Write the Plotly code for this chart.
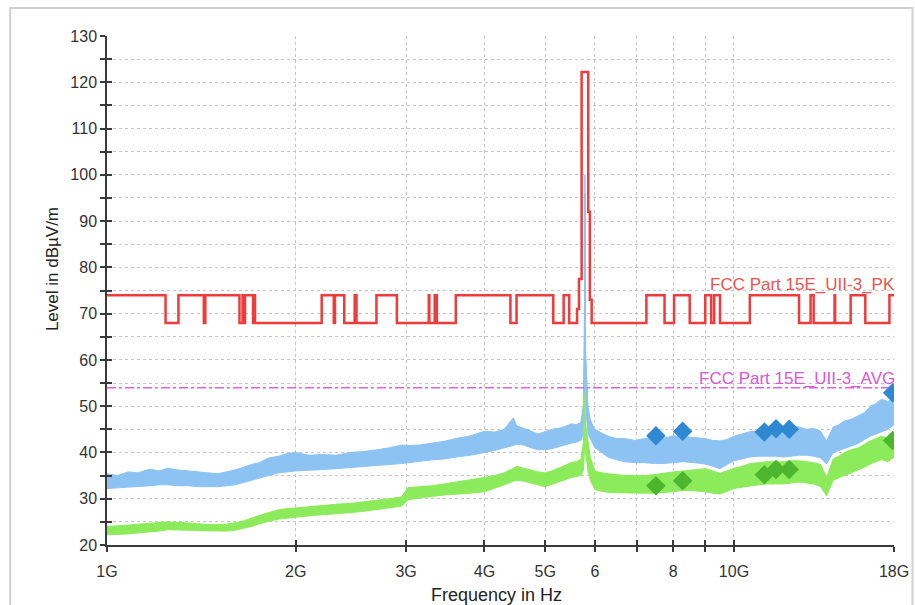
import math
import plotly.graph_objects as go

GHZ = 1e9

# FCC Part 15E UII-3 peak limit (stepped), frequency in GHz, level in dBuV/m
lim_pk_f = [1.0, 1.24, 1.30, 1.427, 1.435, 1.6265, 1.6455, 1.6465, 1.66, 1.71,
            1.7188, 1.7222, 2.2, 2.3, 2.31, 2.39, 2.4835, 2.5, 2.69, 2.9,
            3.26, 3.267, 3.332, 3.339, 3.3458, 3.358, 3.6, 4.4, 4.5, 5.15,
            5.35, 5.46, 5.62, 5.66, 5.715, 5.855, 5.89, 5.93, 7.25, 7.75,
            8.025, 8.5, 9.0, 9.2, 9.3, 9.5, 10.6, 12.7, 13.25, 13.4,
            14.47, 14.5, 15.35, 16.2, 17.7, 18.0]
lim_pk_db = [74, 68, 74, 68, 74, 68, 74, 68, 74, 68,
             74, 68, 74, 68, 74, 68, 74, 68, 74, 68,
             74, 68, 74, 68, 74, 68, 74, 68, 74, 68,
             74, 68, 71, 77.5, 122.2, 92, 73, 68, 74, 68,
             74, 68, 74, 68, 74, 68, 74, 68, 74, 68,
             74, 68, 74, 68, 74, 74]

# FCC Part 15E UII-3 average limit
lim_av_f = [1.0, 18.0]
lim_av_db = [54, 54]

# Measured sweep envelopes (GHz, dBuV/m): peak detector and average detector
scan_f = [1.00, 1.04, 1.08, 1.12, 1.17, 1.21, 1.25, 1.30, 1.35, 1.40,
          1.45, 1.50, 1.55, 1.60, 1.65, 1.70, 1.75, 1.81, 1.88, 1.94,
          2.00, 2.10, 2.20, 2.32, 2.45, 2.57, 2.70, 2.82, 2.95, 3.02,
          3.15, 3.30, 3.45, 3.60, 3.80, 4.00, 4.15, 4.30, 4.45, 4.50,
          4.62, 4.75, 4.87, 5.00, 5.12, 5.25, 5.38, 5.50, 5.60, 5.70,
          5.75, 5.775, 5.785, 5.80, 5.85, 5.90, 6.00, 6.15, 6.30, 6.50,
          6.70, 6.95, 7.20, 7.45, 7.70, 8.00, 8.30, 8.65, 9.00, 9.25,
          9.50, 9.75, 10.0, 10.3, 10.6, 10.95, 11.3, 11.65, 12.0, 12.35,
          12.7, 13.05, 13.4, 13.75, 14.05, 14.4, 14.7, 15.0, 15.4, 15.8,
          16.15, 16.5, 16.85, 17.2, 17.6, 18.0]
pk_hi = [35.4, 35.0, 35.8, 35.6, 36.4, 36.0, 36.6, 36.2, 36.0, 35.8,
         35.6, 35.4, 35.8, 36.2, 36.8, 37.4, 37.8, 38.8, 39.2, 39.8,
         40.0, 39.4, 39.6, 39.4, 40.0, 40.2, 40.6, 41.0, 41.6, 41.5,
         41.6, 42.0, 42.4, 43.0, 43.6, 44.6, 44.4, 45.0, 47.5, 45.8,
         45.2, 44.5, 44.0, 44.5, 45.0, 45.2, 45.6, 46.2, 46.0, 46.5,
         50.0, 70.0, 100.0, 62.0, 50.0, 47.0, 45.0, 44.2, 43.5, 43.0,
         43.0, 42.6, 43.0, 43.2, 43.0, 43.6, 43.5, 43.2, 43.0, 42.6,
         42.5, 42.8, 43.5, 44.0, 44.5, 44.6, 45.0, 45.4, 45.0, 45.6,
         45.5, 45.0, 45.2, 44.6, 42.5, 45.5, 46.0, 46.8, 47.2, 48.0,
         48.6, 50.0, 50.6, 51.5, 51.0, 52.0]
pk_lo = [32.2, 32.4, 32.5, 32.6, 32.8, 33.0, 33.0, 32.8, 32.8, 32.6,
         32.6, 32.6, 32.8, 33.0, 33.5, 34.0, 34.5, 35.0, 35.6, 35.8,
         36.0, 36.2, 36.3, 36.5, 36.6, 36.9, 37.2, 37.4, 37.6, 37.8,
         38.0, 38.4, 38.6, 39.0, 39.4, 40.0, 40.4, 41.0, 41.5, 41.8,
         41.6, 41.0, 40.6, 40.6, 40.8, 41.2, 41.6, 42.0, 42.2, 42.6,
         44.0, 52.0, 96.0, 50.0, 44.0, 43.0, 41.0, 40.0, 39.0, 38.4,
         38.0, 37.8, 37.8, 37.6, 37.6, 37.8, 38.0, 37.8, 37.5, 37.0,
         36.5, 37.4, 38.2, 38.6, 39.0, 39.2, 39.2, 39.2, 39.0, 39.2,
         39.4, 39.4, 39.2, 38.8, 37.5, 40.0, 40.4, 40.8, 41.4, 42.0,
         42.8, 43.5, 44.0, 44.5, 45.0, 46.0]
av_hi = [24.0, 24.1, 24.3, 24.5, 24.7, 24.9, 25.0, 24.9, 24.8, 24.6,
         24.4, 24.4, 24.5, 24.8, 25.2, 25.8, 26.4, 27.0, 27.6, 27.9,
         28.0, 28.3, 28.6, 28.8, 29.0, 29.3, 29.6, 30.0, 30.4, 32.4,
         32.6, 32.8, 33.2, 33.6, 34.0, 34.6, 35.0, 35.6, 36.6, 37.0,
         36.6, 36.2, 35.8, 35.6, 36.0, 36.6, 37.2, 37.8, 38.0, 38.5,
         42.0, 48.0, 53.0, 46.0, 42.0, 39.0, 36.0, 35.6, 35.4, 35.2,
         35.0, 35.0, 35.0, 35.2, 35.5, 35.8, 36.0, 36.2, 36.5, 36.0,
         35.5, 36.0, 36.6, 37.0, 37.6, 37.8, 38.0, 38.0, 38.0, 38.2,
         38.2, 38.0, 37.8, 37.4, 34.6, 38.6, 39.2, 40.0, 40.6, 41.0,
         41.8, 42.5, 43.0, 43.5, 43.0, 43.5]
av_lo = [22.2, 22.3, 22.4, 22.6, 22.8, 23.0, 23.3, 23.3, 23.2, 23.1,
         23.0, 23.0, 23.0, 23.2, 23.6, 24.0, 24.6, 25.1, 25.6, 25.8,
         26.0, 26.3, 26.6, 26.8, 27.0, 27.3, 27.6, 28.0, 28.4, 29.8,
         30.2, 30.5, 30.8, 31.0, 31.2, 31.5, 32.2, 33.0, 33.8, 34.0,
         33.8, 33.4, 33.0, 32.6, 33.0, 33.6, 34.1, 34.6, 34.8, 35.0,
         36.0, 40.0, 48.0, 40.0, 36.0, 34.0, 32.0, 31.6, 31.4, 31.3,
         31.3, 31.2, 31.2, 31.2, 31.3, 31.5, 31.8, 31.7, 31.5, 31.2,
         31.0, 31.6, 32.2, 32.5, 32.8, 33.0, 33.2, 33.2, 33.2, 33.4,
         33.6, 33.4, 33.2, 32.6, 30.6, 34.0, 34.5, 35.0, 35.6, 36.2,
         36.8, 37.5, 38.0, 38.5, 38.0, 39.0]

# Final measurement points
final_f = [7.508, 8.283, 11.18, 11.67, 12.25, 17.91]
final_pk = [43.6, 44.6, 44.4, 45.1, 45.0, 52.9]
final_av = [32.8, 33.9, 35.2, 36.3, 36.3, 42.6]

x_ticks = [1, 2, 3, 4, 5, 6, 7, 8, 9, 10, 18]
x_ticktext = ["1G", "2G", "3G", "4G", "5G", "6", "", "8", "", "10G", "18G"]

FONT = "Liberation Sans, Arial, sans-serif"
RED = "#EE3B3B"
MAGENTA = "#DC64DC"
BLUE_TRACE = "#8CC3F2"
GREEN_TRACE = "#8CEB5A"
BLUE_MK = "#2F88D2"
GREEN_MK = "#4DB52E"
GRID = "#C4C4C4"
AXIS = "#3A3A3A"


def hz(values):
    return [v * GHZ for v in values]


def band(freqs, lo, hi):
    xs = hz(freqs) + hz(freqs[::-1])
    ys = list(hi) + list(lo[::-1])
    return xs, ys


fig = go.Figure()

bx, by = band(scan_f, pk_lo, pk_hi)
fig.add_trace(go.Scatter(x=bx, y=by, fill="toself", fillcolor=BLUE_TRACE,
                         line=dict(color=BLUE_TRACE, width=1),
                         mode="lines", hoverinfo="skip", showlegend=False))
gx, gy = band(scan_f, av_lo, av_hi)
fig.add_trace(go.Scatter(x=gx, y=gy, fill="toself", fillcolor=GREEN_TRACE,
                         line=dict(color=GREEN_TRACE, width=1),
                         mode="lines", hoverinfo="skip", showlegend=False))

fig.add_trace(go.Scatter(x=hz(lim_av_f), y=lim_av_db, mode="lines",
                         line=dict(color=MAGENTA, width=1.5, dash="dashdot"),
                         showlegend=False))
fig.add_trace(go.Scatter(x=hz(lim_pk_f), y=lim_pk_db, mode="lines",
                         line=dict(color=RED, width=2.5, shape="hv"),
                         showlegend=False))

fig.add_trace(go.Scatter(x=hz(final_f), y=final_pk, mode="markers",
                         marker=dict(symbol="diamond", size=15, color=BLUE_MK),
                         showlegend=False))
fig.add_trace(go.Scatter(x=hz(final_f), y=final_av, mode="markers",
                         marker=dict(symbol="diamond", size=15, color=GREEN_MK),
                         showlegend=False))

# invisible trace carrying the secondary axes (inner half of the crossing ticks)
fig.add_trace(go.Scatter(x=[1 * GHZ, 18 * GHZ], y=[20, 130], xaxis="x2", yaxis="y2",
                         mode="markers", marker=dict(opacity=0), hoverinfo="skip",
                         showlegend=False))

x_range = [math.log10(1 * GHZ), math.log10(18 * GHZ)]
tickvals = hz(x_ticks)

fig.update_layout(
    width=915, height=605,
    margin=dict(l=107, r=21, t=36, b=60, autoexpand=False),
    paper_bgcolor="white", plot_bgcolor="white",
    font=dict(family=FONT, size=16, color="#333333"),
    xaxis=dict(type="log", range=x_range, tickvals=tickvals, ticktext=x_ticktext,
               automargin=False,
               ticks="outside", ticklen=5, tickwidth=1.5, tickcolor=AXIS,
               ticklabelstandoff=6,
               showline=True, linecolor=AXIS, linewidth=1.5,
               showgrid=True, gridcolor=GRID, griddash="dot", gridwidth=1,
               zeroline=False),
    yaxis=dict(range=[20, 130], dtick=10, tick0=20, automargin=False,
               ticks="outside", ticklen=5, tickwidth=1.5, tickcolor=AXIS,
               showline=True, linecolor=AXIS, linewidth=1.5,
               showgrid=True, gridcolor=GRID, griddash="dot", gridwidth=1,
               minor=dict(dtick=5, ticks="outside", ticklen=5, tickcolor=AXIS,
                          showgrid=True, gridcolor=GRID, griddash="dot"),
               zeroline=False),
    xaxis2=dict(type="log", range=x_range, tickvals=tickvals, overlaying="x",
                automargin=False,
                ticks="inside", ticklen=5, tickwidth=1.5, tickcolor=AXIS,
                showticklabels=False, showgrid=False, showline=False, zeroline=False),
    yaxis2=dict(range=[20, 130], dtick=10, tick0=20, overlaying="y",
                automargin=False,
                ticks="inside", ticklen=5, tickwidth=1.5, tickcolor=AXIS,
                minor=dict(dtick=5, ticks="inside", ticklen=5, tickcolor=AXIS),
                showticklabels=False, showgrid=False, showline=False, zeroline=False),
)

# limit line captions
fig.add_annotation(x=math.log10(18 * GHZ), y=76.3, xref="x", yref="y",
                   text="FCC Part 15E_UII-3_PK", showarrow=False,
                   xanchor="right", yanchor="middle", xshift=3,
                   font=dict(family=FONT, size=17, color="#E85550"))
fig.add_annotation(x=math.log10(18 * GHZ), y=55.9, xref="x", yref="y",
                   text="FCC Part 15E_UII-3_AVG", showarrow=False,
                   xanchor="right", yanchor="middle", xshift=3,
                   font=dict(family=FONT, size=17, color="#D858D8"))

# axis titles
fig.add_annotation(x=-0.0699, y=0.542, xref="paper", yref="paper",
                   text="Level in dBµV/m", showarrow=False, textangle=-90,
                   xanchor="center", yanchor="middle",
                   font=dict(family=FONT, size=17, color="#222222"))
fig.add_annotation(x=0.495, y=-0.098, xref="paper", yref="paper",
                   text="Frequency in Hz", showarrow=False,
                   xanchor="center", yanchor="middle",
                   font=dict(family=FONT, size=18, color="#222222"))

# outer frame
fig.add_shape(type="rect", xref="paper", yref="paper",
              x0=-0.123, x1=1.0235, y0=-0.3, y1=1.055,
              line=dict(color="#D0D0D0", width=2), layer="below")

fig.write_html("out.html")
